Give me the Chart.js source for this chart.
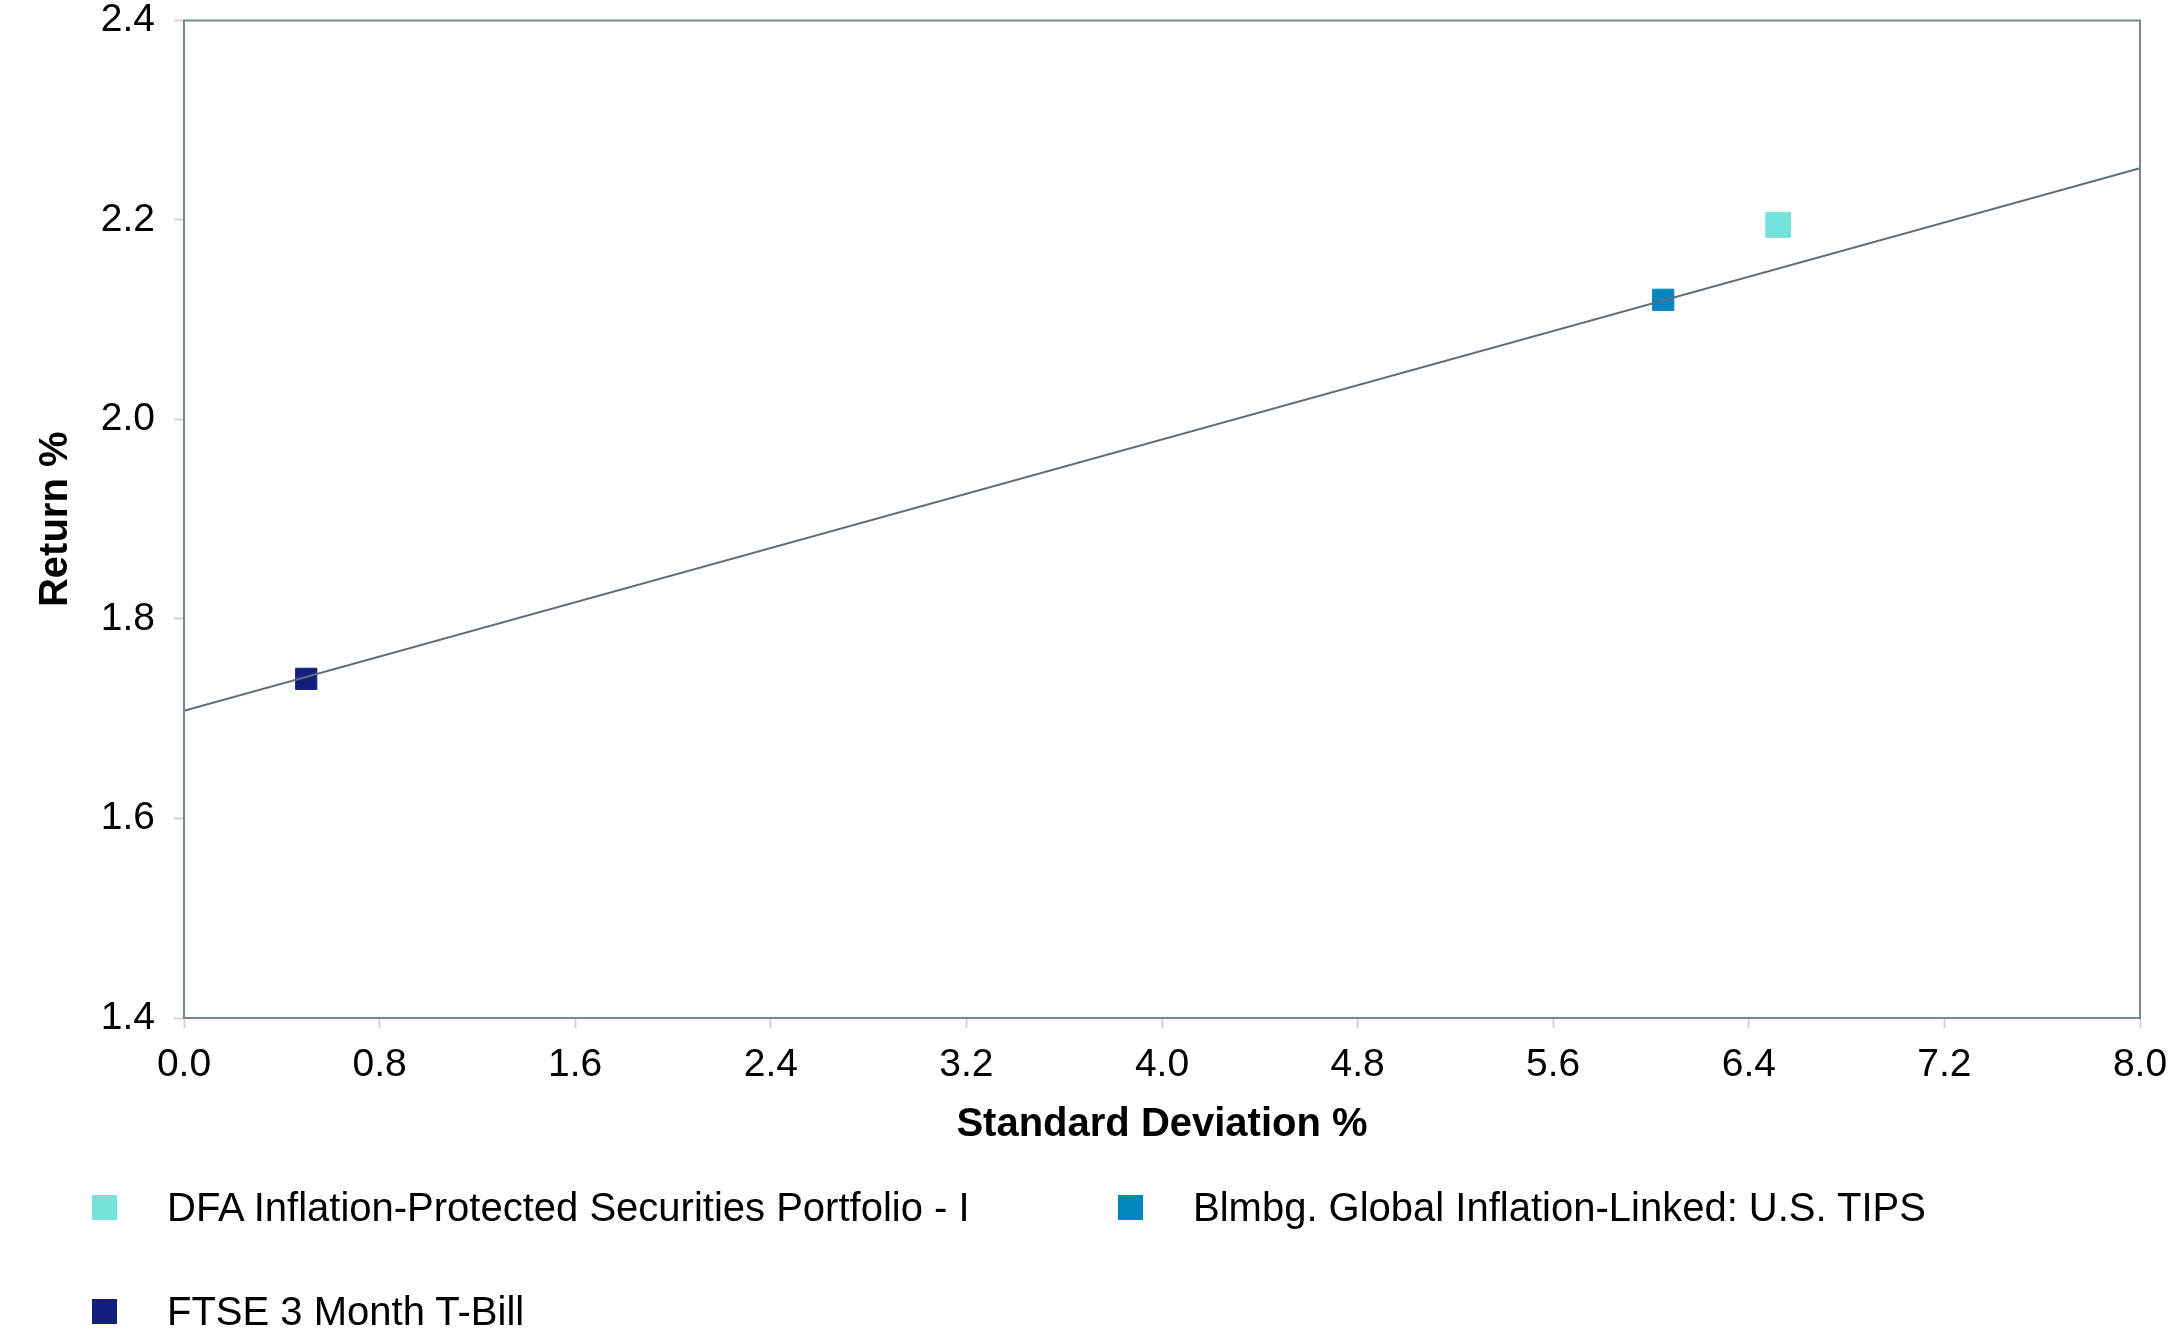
<!DOCTYPE html>
<html>
<head>
<meta charset="utf-8">
<script src="https://cdn.jsdelivr.net/npm/chart.js@4.4.1/dist/chart.umd.min.js"></script>
<style>
  html, body { margin: 0; padding: 0; background: #ffffff; }
  #wrap { position: relative; width: 2177px; height: 1335px; overflow: hidden; }
  #chart { position: absolute; left: 0; top: 0; }
  .lg { position: absolute; height: 50px; display: flex; align-items: center;
        font-family: "Liberation Sans", Arial, Helvetica, sans-serif; font-size: 40px; color: #000; white-space: nowrap; }
  .lg .sw { width: 25px; height: 25px; margin-right: 50px; flex: none; }
</style>
</head>
<body>
<div id="wrap">
  <canvas id="chart" width="2177" height="1335"></canvas>
</div>
<script>
// ---- data ----
const seriesLabels = [
  'DFA Inflation-Protected Securities Portfolio - I',
  'Blmbg. Global Inflation-Linked: U.S. TIPS',
  'FTSE 3 Month T-Bill'
];
const stdDev = [6.52, 6.05, 0.50];
const returns = [2.195, 2.12, 1.74];
const seriesColors = ['#74E3D9', '#0086BF', '#131F7C'];
const markerRadius = [17.5, 15, 15];
const lineX = [0, 8];
const lineY = [1.708, 2.252];
const xAxisTitle = 'Standard Deviation %';
const yAxisTitle = 'Return %';
const xMin = 0, xMax = 8, xStep = 0.8;
const yMin = 1.4, yMax = 2.4, yStep = 0.2;

const FONT = '"Liberation Sans", Arial, Helvetica, sans-serif';

const scatterSets = seriesLabels.map((lab, i) => ({
  type: 'scatter',
  label: lab,
  data: [{ x: stdDev[i], y: returns[i] }],
  backgroundColor: seriesColors[i],
  borderColor: seriesColors[i],
  borderWidth: 1,
  pointStyle: 'rect',
  pointRadius: markerRadius[i],
  pointHoverRadius: markerRadius[i],
  order: 2
}));

const lineSet = {
  type: 'line',
  label: 'Market Line',
  data: lineX.map((x, i) => ({ x: x, y: lineY[i] })),
  borderColor: '#5F6E7A',
  borderWidth: 2,
  pointRadius: 0,
  fill: false,
  tension: 0,
  order: 1
};

const frame = {
  id: 'frame',
  afterDatasetsDraw(chart) {
    const a = chart.chartArea, c = chart.ctx;
    c.save();
    c.strokeStyle = '#788793';
    c.lineWidth = 2;
    c.strokeRect(a.left, a.top, a.right - a.left, a.bottom - a.top);
    c.restore();
  }
};

new Chart(document.getElementById('chart'), {
  type: 'scatter',
  data: { datasets: [...scatterSets, lineSet] },
  options: {
    responsive: false,
    animation: false,
    devicePixelRatio: 1,
    layout: { autoPadding: false, padding: { left: 0, top: 20.5, right: 37, bottom: 186 } },
    plugins: { legend: { display: false }, tooltip: { enabled: false } },
    scales: {
      x: {
        type: 'linear', position: 'bottom',
        min: xMin, max: xMax,
        afterFit(s) { s.height = 131; s.paddingLeft = 0; s.paddingRight = 0; },
        ticks: {
          stepSize: xStep,
          callback: v => Number(v).toFixed(1),
          font: { family: FONT, size: 39, lineHeight: 1.05 },
          color: '#000', padding: 17, maxRotation: 0, autoSkip: false
        },
        grid: { drawOnChartArea: false, drawTicks: true, tickLength: 10, tickColor: '#D5D5D5', tickWidth: 2 },
        border: { display: true, color: '#788793', width: 2 },
        title: { display: true, text: xAxisTitle, color: '#000',
                 font: { family: FONT, size: 40, weight: 'bold', lineHeight: 1.2 },
                 padding: { top: 0, bottom: 0 } }
      },
      y: {
        type: 'linear', position: 'left',
        min: yMin, max: yMax,
        afterFit(s) { s.width = 184; s.paddingTop = 0; s.paddingBottom = 0; },
        ticks: {
          stepSize: yStep,
          callback: v => Number(v).toFixed(1),
          font: { family: FONT, size: 39, lineHeight: 1.05 },
          color: '#000', padding: 19
        },
        grid: { drawOnChartArea: false, drawTicks: true, tickLength: 10, tickColor: '#D5D5D5', tickWidth: 2 },
        border: { display: true, color: '#788793', width: 2 },
        title: { display: true, text: yAxisTitle, color: '#000',
                 font: { family: FONT, size: 40, weight: 'bold', lineHeight: 1.2 },
                 padding: { top: 32, bottom: 0 } }
      }
    }
  },
  plugins: [frame]
});

// ---- HTML legend built from series arrays ----
const legendPos = [
  { left: 92, top: 1182 },
  { left: 1118, top: 1182 },
  { left: 92, top: 1286 }
];
const wrap = document.getElementById('wrap');
seriesLabels.forEach((lab, i) => {
  const d = document.createElement('div');
  d.className = 'lg';
  d.style.left = legendPos[i].left + 'px';
  d.style.top = legendPos[i].top + 'px';
  const sw = document.createElement('span');
  sw.className = 'sw';
  sw.style.background = seriesColors[i];
  const t = document.createElement('span');
  t.textContent = lab;
  d.appendChild(sw); d.appendChild(t);
  wrap.appendChild(d);
});
</script>
</body>
</html>
